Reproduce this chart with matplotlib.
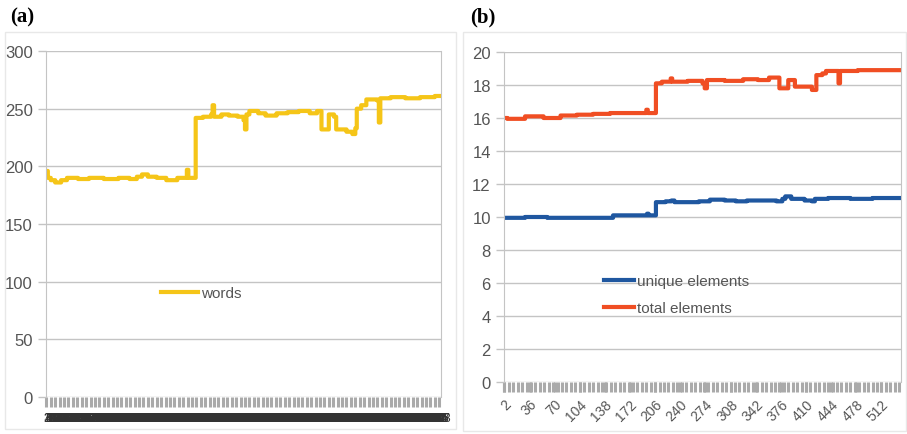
import numpy as np
import matplotlib.pyplot as plt
from matplotlib.patches import Rectangle

# sample indices shown on the x axis of both charts
first_idx = 2
last_idx = 538

# step levels: (start index, value)
words_steps = [(2, 196), (4, 190), (8, 188), (14, 186), (22, 188), (30, 190),
               (45, 189), (60, 190), (80, 189), (100, 190), (115, 189),
               (125, 191), (132, 193), (140, 191), (152, 190), (165, 188),
               (180, 190), (193, 197), (195, 190), (205, 242), (215, 243),
               (226, 245), (228, 253), (230, 243), (240, 245), (250, 244),
               (262, 243), (270, 240), (272, 232), (274, 245), (278, 248),
               (290, 246), (300, 244), (315, 246), (330, 247), (345, 248),
               (360, 246), (370, 248), (376, 232), (383, 232), (386, 245),
               (393, 243), (396, 232), (410, 230), (418, 228), (422, 233),
               (424, 250), (430, 253), (437, 258), (452, 257), (454, 238),
               (456, 259), (470, 260), (490, 259), (510, 260), (530, 261)]

total_steps = [(2, 16.0), (6, 15.95), (30, 16.1), (55, 16.0), (78, 16.15),
               (100, 16.2), (122, 16.25), (145, 16.3), (168, 16.3),
               (194, 16.5), (196, 16.3), (207, 18.1), (215, 18.2),
               (227, 18.4), (229, 18.2), (250, 18.25), (270, 18.1),
               (273, 17.8), (276, 18.3), (300, 18.25), (325, 18.35),
               (345, 18.3), (360, 18.45), (374, 17.8), (383, 17.8),
               (386, 18.3), (395, 17.9), (418, 17.7), (424, 18.6),
               (432, 18.7), (437, 18.85), (454, 18.1), (456, 18.85),
               (480, 18.9), (510, 18.9)]

unique_steps = [(2, 9.95), (30, 10.0), (60, 9.95), (149, 10.1), (195, 10.2),
                (197, 10.1), (207, 10.9), (220, 10.95), (228, 11.0),
                (232, 10.9), (265, 10.95), (280, 11.05), (300, 11.0),
                (315, 10.95), (330, 11.0), (370, 10.95), (378, 11.1),
                (382, 11.25), (390, 11.1), (408, 11.0), (418, 10.95),
                (422, 11.1), (440, 11.15), (470, 11.1), (500, 11.15)]


def expand(steps):
    """Turn (start, value) step list into one value per index."""
    starts = [s for s, _ in steps] + [last_idx + 1]
    vals = [v for _, v in steps]
    return np.repeat(vals, np.diff(starts))


idx = np.arange(first_idx, last_idx + 1)
words = expand(words_steps)
total = expand(total_steps)
unique = expand(unique_steps)

plt.rcParams['font.family'] = ['Liberation Sans', 'DejaVu Sans']
grey_txt = '#555555'
grid_c = '#c4c4c4'


def style_axes(ax):
    ax.grid(axis='y', color=grid_c, lw=1)
    ax.set_axisbelow(True)
    for s in ('top', 'bottom'):
        ax.spines[s].set_visible(False)
    for s in ('left', 'right'):
        ax.spines[s].set_color(grid_c)
    ax.tick_params(axis='y', colors=grid_c, labelcolor=grey_txt,
                   labelsize=12, length=6, width=1)
    ax.tick_params(axis='x', which='both', colors='#aaaaaa', length=7, width=2.2)
    ax.set_xlim(first_idx - 0.5, last_idx + 0.5)
    # comb of category ticks under the plot
    ax.xaxis.remove_overlapping_locs = False
    ax.set_xticks(np.arange(first_idx, last_idx + 1, 6), minor=True)


fig = plt.figure(figsize=(9.07, 4.35), dpi=100)

# chart area frames
fig.add_artist(Rectangle((5 / 907, 5 / 435), 451 / 907, 397 / 435,
                         transform=fig.transFigure, fill=False,
                         ec='#e8e8e8', lw=1))
fig.add_artist(Rectangle((463 / 907, 3 / 435), 443 / 907, 399 / 435,
                         transform=fig.transFigure, fill=False,
                         ec='#e8e8e8', lw=1))

# (a) words
ax1 = fig.add_axes([46 / 907, 1 - 398 / 435, 395 / 907, 346 / 435])
ax1.step(idx, words, where='post', color='#f5c518', lw=3, label='words')
ax1.set_ylim(0, 300)
ax1.set_yticks(np.arange(0, 301, 50))
style_axes(ax1)
ax1.set_xticks(idx)
ax1.set_xticklabels([str(i) for i in idx], fontsize=9, color='#333333')
ax1.tick_params(axis='x', which='major', length=0, pad=11)
ax1.legend(loc='center left', bbox_to_anchor=(0.272, 0.30), frameon=False,
           fontsize=11, handlelength=2.4, handletextpad=0.2,
           borderpad=0, labelcolor=grey_txt)

# (b) unique / total elements
ax2 = fig.add_axes([504 / 907, 1 - 383 / 435, 397 / 907, 330 / 435])
ax2.step(idx, unique, where='post', color='#1f57a0', lw=3,
         label='unique elements')
ax2.step(idx, total, where='post', color='#f04e23', lw=3,
         label='total elements')
ax2.set_ylim(0, 20)
ax2.set_yticks(np.arange(0, 21, 2))
style_axes(ax2)
lab_ticks = np.arange(first_idx, last_idx + 1, 34)
ax2.set_xticks(lab_ticks)
ax2.set_xticklabels([str(t) for t in lab_ticks], rotation=45, ha='right',
                    rotation_mode='anchor', fontsize=10, color=grey_txt)
ax2.legend(loc='center left', bbox_to_anchor=(0.232, 0.265), frameon=False,
           fontsize=11, handlelength=2.0, handletextpad=0.2,
           labelspacing=0.85, borderpad=0, labelcolor=grey_txt)

fig.text(10 / 907, 1 - 17 / 435, '(a)', fontsize=15, fontweight='bold',
         family='Liberation Serif', va='center')
fig.text(470 / 907, 1 - 17 / 435, '(b)', fontsize=15, fontweight='bold',
         family='Liberation Serif', va='center')

fig.savefig('out.png', dpi=100)
